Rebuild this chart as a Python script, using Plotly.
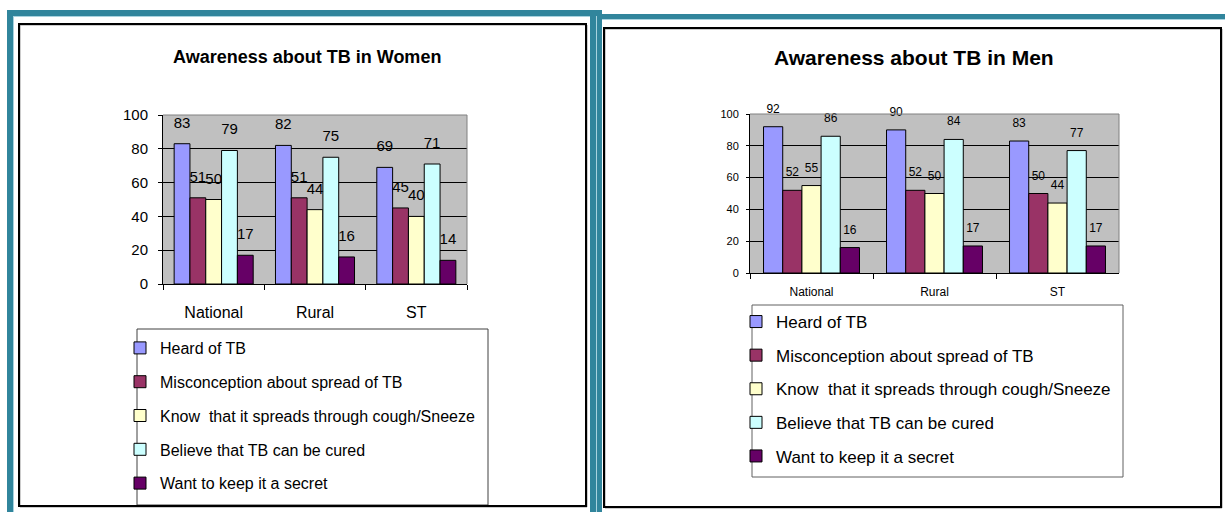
import plotly.graph_objects as go

# ---- data -----------------------------------------------------------------
categories = ["National", "Rural", "ST"]

series_names = [
    "Heard of TB",
    "Misconception about spread of TB",
    "Know\u00a0 that it spreads through cough/Sneeze",
    "Believe that TB can be cured",
    "Want to keep it a secret",
]
series_colors = ["#9999FF", "#993366", "#FFFFCC", "#CCFFFF", "#660066"]

women_heard = [83, 82, 69]
women_misconception = [51, 51, 45]
women_cough = [50, 44, 40]
women_cured = [79, 75, 71]
women_secret = [17, 16, 14]

men_heard = [92, 90, 83]
men_misconception = [52, 52, 50]
men_cough = [55, 50, 44]
men_cured = [86, 84, 77]
men_secret = [16, 17, 17]

women_series = [women_heard, women_misconception, women_cough, women_cured, women_secret]
men_series = [men_heard, men_misconception, men_cough, men_cured, men_secret]

# ---- page geometry (pixels) ------------------------------------------------
W, H = 1225, 512


def px(x):
    return x / W


def py(y):
    return 1 - y / H


SANS = "Liberation Sans, Arial, sans-serif"
BAR_GAP = 0.22
TEAL = "#31859C"

fig = go.Figure()


def add_panel(series, xa, ya, legend_id, label_font, label_marker):
    for name, color, values in zip(series_names, series_colors, series):
        fig.add_trace(go.Bar(
            x=categories, y=values, name=name,
            marker=dict(color=color, line=dict(color="black", width=1)),
            xaxis=xa, yaxis=ya, legend=legend_id, legendgroup=legend_id + name,
            hoverinfo="skip",
        ))
    # value labels, grouped the same way as the bars
    for name, values in zip(series_names, series):
        fig.add_trace(go.Scatter(
            x=categories, y=values, mode="markers+text",
            text=[str(v) for v in values], textposition="top center",
            textfont=label_font,
            marker=dict(size=label_marker, color="rgba(0,0,0,0)"),
            xaxis=xa, yaxis=ya, showlegend=False, hoverinfo="skip",
            cliponaxis=False,
        ))


add_panel(women_series, "x", "y", "legend",
          dict(family=SANS, size=15, color="black"), 18)
add_panel(men_series, "x2", "y2", "legend2",
          dict(family=SANS, size=12, color="black"), 16)

axis_common = dict(showline=True, linecolor="black", linewidth=1,
                   ticks="outside", tickcolor="black", zeroline=False)

fig.update_layout(
    width=W, height=H,
    # fixed margins: the legends must not push the plot areas around
    margin=dict(l=0, r=0, t=0, b=0, autoexpand=False),
    paper_bgcolor="white",
    plot_bgcolor="#C0C0C0",
    barmode="group", bargap=BAR_GAP, bargroupgap=0,
    scattermode="group", scattergap=BAR_GAP,
    showlegend=True,
    xaxis=dict(domain=[px(163), px(467)], anchor="y", type="category",
               tickson="boundaries", ticklen=5, showgrid=False,
               tickfont=dict(family=SANS, size=16, color="black"),
               ticklabelstandoff=14, **axis_common),
    yaxis=dict(domain=[py(284), py(115)], anchor="x", range=[0, 100], dtick=20,
               ticklen=4, showgrid=True, gridcolor="black", gridwidth=1,
               tickfont=dict(family=SANS, size=15, color="black"),
               ticklabelstandoff=7, **axis_common),
    xaxis2=dict(domain=[px(750), px(1119)], anchor="y2", type="category",
                tickson="boundaries", ticklen=5, showgrid=False,
                tickfont=dict(family=SANS, size=12, color="black"),
                ticklabelstandoff=8, **axis_common),
    yaxis2=dict(domain=[py(273), py(114)], anchor="x2", range=[0, 100], dtick=20,
                ticklen=3, showgrid=True, gridcolor="black", gridwidth=1,
                tickfont=dict(family=SANS, size=11, color="black"),
                ticklabelstandoff=5, **axis_common),
    legend=dict(x=px(120), y=py(331), xanchor="left", yanchor="top",
                font=dict(family=SANS, size=16, color="black"),
                bgcolor="rgba(0,0,0,0)", borderwidth=0,
                traceorder="grouped", tracegroupgap=10),
    legend2=dict(x=px(736), y=py(304), xanchor="left", yanchor="top",
                 font=dict(family=SANS, size=17, color="black"),
                 bgcolor="rgba(0,0,0,0)", borderwidth=0,
                 traceorder="grouped", tracegroupgap=8.5),
)

# ---- titles ---------------------------------------------------------------
fig.add_annotation(text="<b>Awareness about TB in Women</b>", x=px(307), y=py(57),
                   xref="paper", yref="paper", showarrow=False,
                   xanchor="center", yanchor="middle",
                   font=dict(family=SANS, size=18, color="black"))
fig.add_annotation(text="<b>Awareness about TB in Men</b>", x=px(914), y=py(57),
                   xref="paper", yref="paper", showarrow=False,
                   xanchor="center", yanchor="middle",
                   font=dict(family=SANS, size=21, color="black"))

# ---- decorations: plot borders, legend boxes, frames ---------------------
shapes = []
# grey top and right edges of each plot area
for xr, yr in (("x domain", "y domain"), ("x2 domain", "y2 domain")):
    shapes.append(dict(type="line", xref=xr, yref=yr, x0=0, x1=1, y0=1, y1=1,
                       line=dict(color="#808080", width=1), layer="above"))
    shapes.append(dict(type="line", xref=xr, yref=yr, x0=1, x1=1, y0=0, y1=1,
                       line=dict(color="#808080", width=1), layer="above"))


def rect(x0, y0, x1, y1, color, width):
    return dict(type="rect", xref="paper", yref="paper",
                x0=px(x0), x1=px(x1), y0=py(y1), y1=py(y0),
                line=dict(color=color, width=width), layer="above")


def band(x0, y0, x1, y1, color):
    return dict(type="rect", xref="paper", yref="paper",
                x0=px(x0), x1=px(x1), y0=py(y1), y1=py(y0),
                line=dict(width=0), fillcolor=color, layer="above")


# legend boxes (the women box runs down into the frame)
shapes.append(rect(137, 329, 488, 505, "#404040", 1))
shapes.append(rect(752, 305, 1123, 477, "#606060", 1))

# black inner frames with a soft shadow
shapes.append(rect(20, 25, 587, 507, "#9a9a9a", 1))
shapes.append(rect(19, 24, 586, 506, "black", 2))
shapes.append(rect(605, 29, 1222, 508, "#9a9a9a", 1))
shapes.append(rect(604, 28, 1221, 507, "black", 2))

# teal outer borders
shapes.append(band(7, 10, 602, 16, TEAL))
shapes.append(band(7, 10, 13, 512, TEAL))
shapes.append(band(590, 10, 597, 512, TEAL))
shapes.append(band(597, 14, 1225, 19, TEAL))
shapes.append(band(597, 14, 602, 512, TEAL))
# light inner highlight on the teal bands
shapes.append(band(13, 16, 14, 512, "#A9D3DF"))
shapes.append(band(13, 16, 590, 17, "#A9D3DF"))
shapes.append(band(596, 16, 597, 512, "#A9D3DF"))
shapes.append(band(602, 19, 1225, 20, "#A9D3DF"))

fig.update_layout(shapes=shapes)

fig.write_html("out.html")
